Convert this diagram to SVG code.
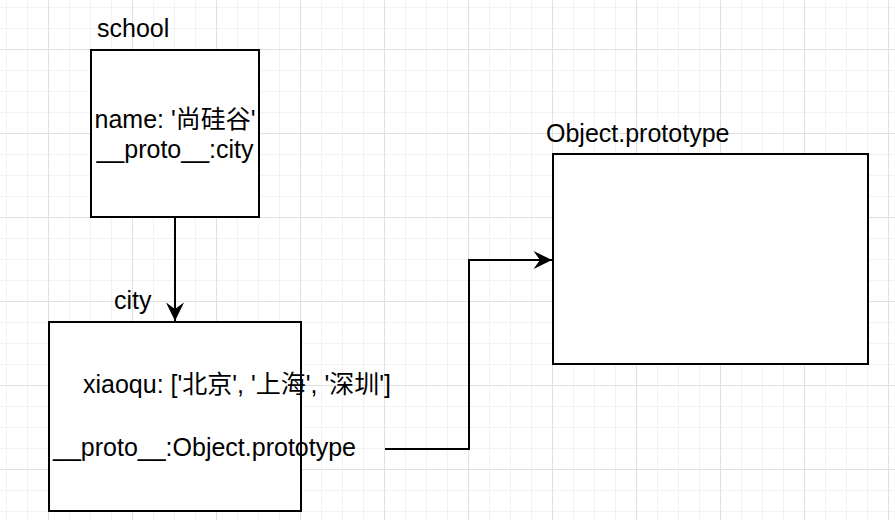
<svg xmlns="http://www.w3.org/2000/svg" width="895" height="520" viewBox="0 0 895 520">
<defs>
<pattern id="minor" x="6" y="7" width="21" height="21" patternUnits="userSpaceOnUse">
<path d="M0.5,0 V21 M0,0.5 H21" fill="none" stroke="#f2f2f2" stroke-width="1"/>
</pattern>
<pattern id="major" x="48" y="49" width="84" height="84" patternUnits="userSpaceOnUse">
<path d="M0.5,0 V84 M0,0.5 H84" fill="none" stroke="#e0e0e0" stroke-width="1"/>
</pattern>
<marker id="arrow" markerUnits="userSpaceOnUse" markerWidth="22" markerHeight="22" refX="19" refY="10" orient="auto" viewBox="0 0 22 20">
<path d="M19,10 L0.5,1 L7,10 L0.5,19 Z" fill="#000"/>
</marker>
</defs>
<style>
.box{fill:#fff;stroke:#000;stroke-width:2}
.t{font-family:"Liberation Sans","Noto Sans CJK SC",Arial,sans-serif;font-size:25px;fill:#000}
.edge{fill:none;stroke:#000;stroke-width:2}
</style>
<rect width="895" height="520" fill="#fff"/>
<rect width="895" height="520" fill="url(#minor)"/>
<rect width="895" height="520" fill="url(#major)"/>
<g id="school">
<text class="t" x="97" y="37">school</text>
<rect class="box" x="91" y="50" width="168" height="167"/>
<text class="t" x="175" y="128" text-anchor="middle">name: '尚硅谷'</text>
<text class="t" x="175" y="158" text-anchor="middle">__proto__:city</text>
</g>
<g id="city">
<text class="t" x="114" y="309">city</text>
<rect class="box" x="49" y="322" width="252" height="189"/>
<text class="t" x="83" y="393">xiaoqu: ['北京', '上海', '深圳']</text>
<text class="t" x="53" y="456">__proto__:Object.prototype</text>
</g>
<g id="object-prototype">
<text class="t" x="546" y="142">Object.prototype</text>
<rect class="box" x="553" y="154" width="315" height="210"/>
</g>
<g id="connectors">
<path class="edge" d="M175,217 V321" marker-end="url(#arrow)"/>
<path class="edge" d="M385,449 H469 V260 H552" marker-end="url(#arrow)"/>
</g>
</svg>
